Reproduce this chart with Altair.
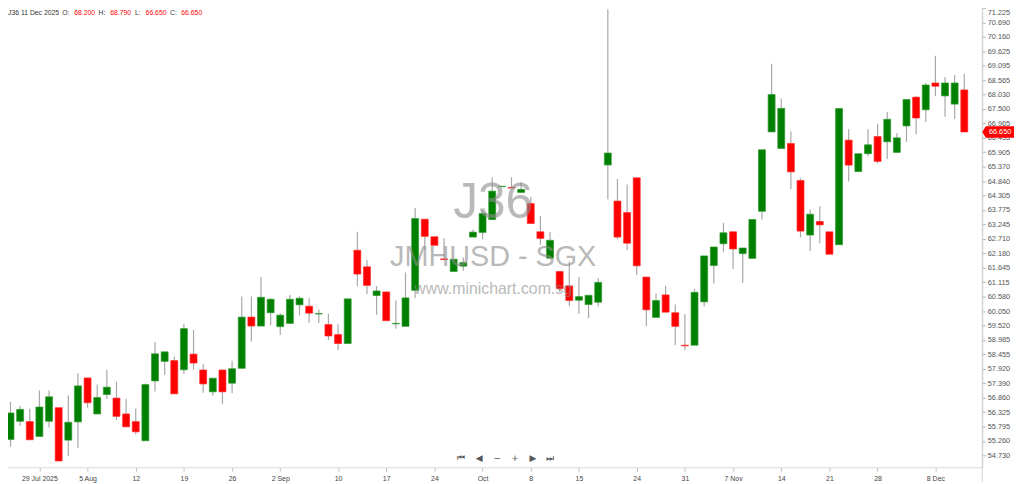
import altair as alt
import pandas as pd

# ---------------- data ----------------
opens = [55.315, 55.985, 55.974, 55.425, 55.985, 56.486, 55.290, 55.963, 57.583, 56.255,
         56.972, 56.840, 56.255, 55.974, 55.268, 57.473, 58.194, 58.223, 57.886, 58.461,
         57.875, 57.071, 57.875, 57.389, 57.938, 59.825, 59.496, 59.986, 59.474, 59.594,
         60.278, 60.227, 59.940, 59.551, 59.181, 58.852, 62.290, 61.679, 60.619, 60.754,
         59.576, 59.485, 60.812, 63.435, 62.787, 61.972, 61.507, 61.705, 62.776, 62.948,
         63.424, 64.630, 64.605, 64.422, 64.009, 62.970, 61.997, 61.507, 60.973, 60.447,
         60.289, 60.373, 65.435, 64.104, 63.680, 64.960, 61.302, 59.814, 60.644, 59.986,
         58.790, 58.790, 60.388, 61.727, 62.531, 62.970, 62.166, 61.990, 63.727, 66.653,
         66.042, 66.225, 64.861, 62.850, 63.351, 62.970, 62.495, 66.350, 65.190, 65.849,
         66.481, 66.288, 65.896, 66.873, 67.933, 67.469, 68.456, 67.981, 67.677, 68.200]
highs = [56.694, 56.559, 56.449, 57.118, 57.118, 56.486, 56.936, 57.755, 57.583, 57.338,
         57.875, 57.448, 56.815, 56.460, 57.374, 58.910, 58.545, 58.362, 59.583, 59.349,
         58.084, 57.572, 57.875, 58.216, 60.582, 60.582, 61.313, 60.520, 59.971, 60.644,
         60.593, 60.520, 60.107, 59.949, 59.558, 60.498, 62.970, 61.935, 60.959, 60.754,
         60.436, 61.471, 63.848, 63.435, 62.787, 62.729, 61.959, 62.019, 63.058, 63.764,
         64.982, 64.650, 64.982, 64.799, 64.250, 63.555, 62.959, 61.507, 61.873, 61.313,
         60.630, 61.266, 71.177, 64.916, 64.715, 64.960, 61.302, 60.692, 60.984, 60.289,
         59.935, 60.864, 62.081, 62.411, 63.299, 62.970, 62.374, 63.424, 65.995, 69.166,
         67.886, 66.664, 64.945, 63.789, 63.910, 62.970, 67.513, 66.756, 65.849, 66.752,
         66.957, 67.385, 66.606, 67.849, 67.970, 68.456, 69.458, 68.665, 68.738, 68.790]
lows = [55.048, 55.816, 55.304, 55.425, 55.754, 54.522, 54.694, 55.012, 56.486, 56.255,
        56.815, 56.036, 55.780, 55.498, 55.268, 57.082, 57.693, 56.998, 57.729, 57.886,
        57.034, 56.925, 56.621, 57.023, 57.938, 58.925, 59.496, 59.521, 59.167, 59.594,
        59.887, 59.620, 59.605, 58.984, 58.607, 58.852, 60.959, 60.681, 59.913, 59.693,
        59.401, 59.485, 60.534, 62.338, 62.473, 61.946, 61.507, 61.533, 62.776, 62.692,
        63.424, 64.630, 64.583, 64.422, 63.277, 62.484, 61.997, 60.739, 60.227, 59.949,
        59.788, 60.227, 64.166, 62.692, 62.301, 61.376, 59.485, 59.814, 60.008, 58.801,
        58.607, 58.790, 60.216, 61.068, 62.217, 61.595, 61.094, 61.990, 63.424, 66.653,
        66.042, 64.543, 62.765, 62.264, 62.546, 62.144, 62.495, 64.825, 65.190, 65.750,
        65.494, 65.655, 65.896, 66.288, 66.569, 67.019, 67.970, 67.213, 67.129, 66.650]
closes = [56.292, 56.424, 55.304, 56.511, 56.888, 54.522, 55.948, 57.290, 56.669, 56.862,
          57.243, 56.167, 55.780, 55.597, 57.338, 58.472, 58.545, 56.998, 59.401, 58.132,
          57.363, 57.572, 57.071, 57.923, 59.825, 59.496, 60.556, 60.483, 59.898, 60.483,
          60.520, 59.971, 59.955, 59.130, 58.852, 60.498, 61.412, 60.995, 60.790, 59.693,
          59.594, 60.534, 63.460, 62.802, 62.473, 61.946, 61.959, 61.836, 62.959, 63.643,
          64.470, 64.650, 64.583, 64.532, 63.277, 62.729, 62.656, 60.875, 60.436, 60.582,
          60.630, 61.105, 65.874, 62.776, 62.550, 61.716, 60.095, 60.436, 60.008, 59.485,
          58.768, 60.739, 62.081, 62.411, 62.934, 62.338, 62.374, 63.424, 65.995, 68.032,
          67.520, 65.179, 62.996, 63.618, 63.226, 62.144, 67.513, 65.428, 65.849, 66.178,
          65.567, 67.118, 66.434, 67.849, 67.165, 68.383, 68.336, 68.456, 68.456, 66.650]

tick_index = [3, 8, 13, 18, 23, 28, 34, 39, 44, 49, 54, 59, 65, 70, 75, 80, 85, 90, 96]
tick_labels = ["29 Jul 2025", "5 Aug", "12", "19", "26", "2 Sep", "10", "17", "24", "Oct",
               "8", "15", "24", "31", "7 Nov", "14", "21", "28", "8 Dec"]
y_ticks = [71.225, 70.690, 70.160, 69.625, 69.095, 68.565, 68.030, 67.500, 66.965, 66.435,
           65.905, 65.370, 64.840, 64.305, 63.775, 63.245, 62.710, 62.180, 61.645, 61.115,
           60.580, 60.050, 59.520, 58.985, 58.455, 57.920, 57.390, 56.860, 56.325, 55.795,
           55.260, 54.730]

header_black = ["J36", "11 Dec 2025", "O:", "H:", "L:", "C:"]
header_red = ["68.200", "68.790", "66.650", "66.650"]
watermark = ["J36", "JMHUSD - SGX", "www.minichart.com.sg"]
nav_icons = ["⏮", "◀", "−", "+", "▶", "⏭"]

# ---------------- table ----------------
dates = [d for d in pd.bdate_range("2025-07-24", "2025-12-11") if d != pd.Timestamp("2025-10-20")]
df = pd.DataFrame({
    "i": list(range(len(opens))),
    "date": [d.strftime("%d %b %Y") for d in dates[:len(opens)]],
    "open": opens, "high": highs, "low": lows, "close": closes,
})
df["dir"] = ["up" if c >= o else "down" for o, c in zip(opens, closes)]

FONT = "Liberation Sans"
xscale = alt.Scale(domain=[-0.568, 100.35], nice=False, zero=False)
yscale = alt.Scale(domain=[54.291, 71.444], nice=False, zero=False)

label_expr = " : ".join(f"datum.value == {i} ? '{l}'" for i, l in zip(tick_index, tick_labels)) + " : ''"

xaxis = alt.Axis(values=tick_index, labelExpr=label_expr, grid=False, title=None,
                 domainColor="#dcdcdc", tickColor="#c0c0c0", tickSize=4,
                 labelFontSize=7, labelColor="#444444", labelFont=FONT, labelPadding=3,
                 labelFlush=False, labelOverlap=False)
yaxis = alt.Axis(orient="right", values=y_ticks, format=".3f", grid=False, title=None,
                 domainColor="#d0d0d0", tickColor="#b0b0b0", tickSize=3,
                 labelFontSize=7.4, labelColor="#555555", labelFont=FONT, labelPadding=2,
                 labelOverlap=False, labelFlush=False, labelBound=False,
                 labelOffset={"condition": {"test": "datum.value > 71", "value": 5}, "value": 0})

base = alt.Chart(df)

wicks = base.mark_rule(color="#a8a8a8", strokeWidth=1.2).encode(
    x=alt.X("i:Q", scale=xscale, axis=xaxis),
    y=alt.Y("low:Q", scale=yscale, axis=yaxis),
    y2="high:Q",
)

bodies = base.mark_bar(size=7, strokeWidth=0.7).encode(
    x=alt.X("i:Q", scale=xscale, axis=xaxis),
    y=alt.Y("open:Q", scale=yscale, axis=yaxis),
    y2="close:Q",
    color=alt.Color("dir:N", scale=alt.Scale(domain=["up", "down"], range=["#008000", "#ff0000"]), legend=None),
    stroke=alt.Stroke("dir:N", scale=alt.Scale(domain=["up", "down"], range=["#2f9a2f", "#ff2a2a"]), legend=None),
    tooltip=["date", "open", "high", "low", "close"],
)

one = pd.DataFrame({"p": [closes[-1]], "t": [f"{closes[-1]:.3f}"]})

# watermark
wm_layers = []
for txt, yv, fs in zip(watermark, [203, 257, 289], [50, 29, 16]):
    wm_layers.append(
        alt.Chart(one).mark_text(text=txt, fontSize=fs, font=FONT, color="#8c8c8c", opacity=0.6,
                                 align="center", baseline="middle")
        .encode(x=alt.value(497), y=alt.value(yv))
    )

# price tag on the right axis
tag_shape = "M-1,0 L-0.78,-0.36 L1,-0.36 L1,0.36 L-0.78,0.36 Z"
tag = alt.Chart(one).mark_point(shape=tag_shape, size=1024, filled=True, color="#ff0000", opacity=1,
                                strokeWidth=0).encode(
    x=alt.value(1006), y=alt.Y("p:Q", scale=yscale, axis=yaxis))
tag_text = alt.Chart(one).mark_text(color="white", fontSize=7.4, font=FONT, align="center",
                                    baseline="middle").encode(
    x=alt.value(1008), y=alt.Y("p:Q", scale=yscale, axis=yaxis), text="t:N")

# right border line
border = alt.Chart(one).mark_rule(color="#d0d0d0", strokeWidth=1).encode(
    x=alt.value(990), y=alt.value(0), y2=alt.value(484))

# header
hdr_layers = []
for txt, xv in zip(header_black, [8, 21, 62.7, 99.3, 136, 171.3]):
    hdr_layers.append(alt.Chart(one).mark_text(text=txt, fontSize=6.9, font=FONT, color="#333333",
                                               align="left", baseline="middle")
                      .encode(x=alt.value(xv), y=alt.value(11)))
for txt, xv in zip(header_red, [74.7, 111, 146.7, 182.7]):
    hdr_layers.append(alt.Chart(one).mark_text(text=txt, fontSize=6.9, font=FONT, color="#ff0000",
                                               align="left", baseline="middle")
                      .encode(x=alt.value(xv), y=alt.value(11)))

# navigation icons
nav_layers = []
for txt, xv in zip(nav_icons, [465, 483, 501, 519, 537, 554]):
    nav_layers.append(alt.Chart(one).mark_text(text=txt, fontSize=9, font="DejaVu Sans", color="#555555",
                                               align="center", baseline="middle")
                      .encode(x=alt.value(xv), y=alt.value(460)))

chart = alt.layer(
    wicks, bodies, *wm_layers, border, tag, tag_text, *hdr_layers, *nav_layers
).properties(
    width=990, height=469,
    autosize=alt.AutoSizeParams(type="none"),
    padding={"left": -8, "top": -8, "right": 34, "bottom": 15},
    background="white",
).configure_view(stroke=None)

chart.save("out.html", embed_options={"renderer": "svg", "actions": False})
